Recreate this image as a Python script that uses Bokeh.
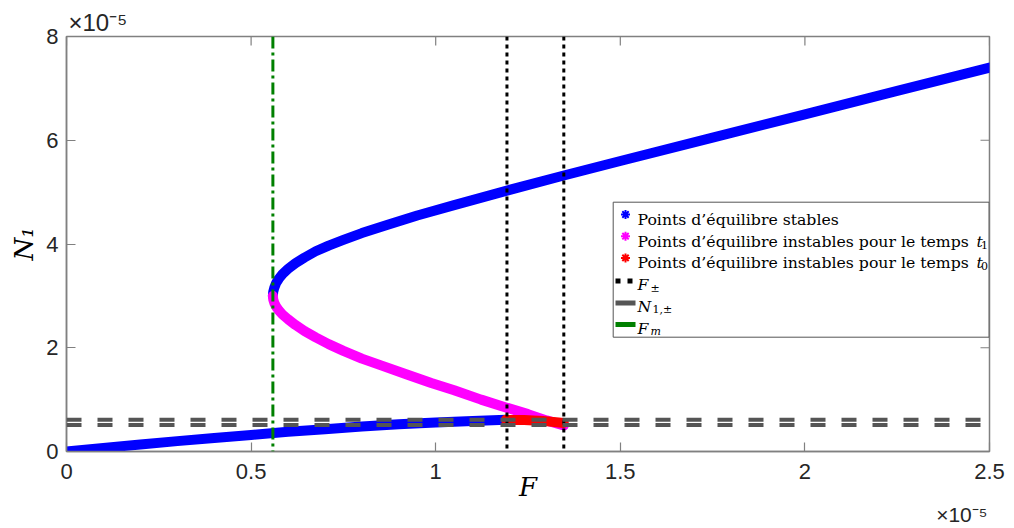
import numpy as np
from bokeh.plotting import figure
from bokeh.models import FixedTicker, Span, Label, Title
from bokeh.embed import file_html
from bokeh.resources import INLINE

# ---------------- data (F and N1 in units of 1e-5) ----------------
F_stable_upper = [0.559, 0.560, 0.563, 0.568, 0.575, 0.585, 0.600, 0.620, 0.645, 0.675, 0.710,
                  0.750, 0.800, 0.870, 0.950, 1.050, 1.193, 1.347, 1.500, 1.750, 2.000, 2.250, 2.500]
N_stable_upper = [3.00, 3.08, 3.16, 3.25, 3.33, 3.42, 3.52, 3.63, 3.74, 3.86, 3.97,
                  4.08, 4.21, 4.37, 4.55, 4.75, 5.03, 5.32, 5.60, 6.05, 6.50, 6.95, 7.40]

F_stable_lower = [0.0, 0.1, 0.2, 0.3, 0.4, 0.5, 0.6, 0.7, 0.8, 0.9, 1.0, 1.1, 1.19]
N_stable_lower = [0.0, 0.07, 0.135, 0.20, 0.26, 0.32, 0.38, 0.43, 0.48, 0.525, 0.56, 0.59, 0.61]

F_unstable_t1 = [0.559, 0.560, 0.563, 0.568, 0.575, 0.585, 0.600, 0.620, 0.645, 0.675, 0.710,
                 0.750, 0.800, 0.852, 0.920, 0.988, 1.050, 1.123, 1.190, 1.250, 1.300, 1.347]
N_unstable_t1 = [3.00, 2.93, 2.86, 2.79, 2.72, 2.64, 2.55, 2.44, 2.32, 2.20, 2.07,
                 1.94, 1.79, 1.66, 1.49, 1.32, 1.18, 1.00, 0.85, 0.72, 0.60, 0.50]

F_unstable_t0 = [1.19, 1.24, 1.29, 1.347]
N_unstable_t0 = [0.61, 0.605, 0.59, 0.55]

F_pm = [1.193, 1.347]      # F_{+-}
N1_pm = [0.51, 0.61]       # N_{1,+-}
F_m = [0.559]              # F_m

x_ticks = [0.0, 0.5, 1.0, 1.5, 2.0, 2.5]
x_tick_labels = ["0", "0.5", "1", "1.5", "2", "2.5"]
y_ticks = [0.0, 2.0, 4.0, 6.0, 8.0]
y_tick_labels = ["0", "2", "4", "6", "8"]
exponent_label = "\u00d710\u207b\u2075"

legend_labels = ["Points d\u2019\u00e9quilibre stables",
                 "Points d\u2019\u00e9quilibre instables pour le temps ",
                 "Points d\u2019\u00e9quilibre instables pour le temps "]

# ---------------- layout ----------------
W, H = 1014, 528
BL, BR, BT, BB = 66, 25, 36, 77
FW, FH = W - BL - BR, H - BT - BB
X0, X1, Y0, Y1 = 0.0, 2.5, 0.0, 8.0


def dx(px):
    return X0 + (px - BL) / FW * (X1 - X0)


def dy(py):
    return Y1 - (py - BT) / FH * (Y1 - Y0)


AX_COL = "#808080"
TXT_COL = "#262626"
SERIF = "DejaVu Serif"
SANS = "Liberation Sans"

p = figure(width=W, height=H, x_range=(X0, X1), y_range=(Y0, Y1),
           output_backend="svg", toolbar_location=None,
           min_border_left=BL, min_border_right=BR, min_border_top=BT, min_border_bottom=BB)
p.grid.visible = False
p.outline_line_color = AX_COL
p.outline_line_width = 1.5
p.background_fill_color = "white"
p.border_fill_color = "white"

# exponent at top-left (title) and bottom-right
p.title.text = exponent_label
p.title.align = "left"
p.title.offset = 2
p.title.standoff = 1
p.title.text_font = SANS
p.title.text_font_size = "24px"
p.title.text_font_style = "normal"
p.title.text_color = TXT_COL

for ax in (p.xaxis[0], p.yaxis[0]):
    ax.axis_line_color = AX_COL
    ax.axis_line_width = 1.5
    ax.major_tick_line_color = AX_COL
    ax.major_tick_line_width = 1.2
    ax.major_tick_in = 9
    ax.major_tick_out = 0
    ax.minor_tick_line_color = None
    ax.major_label_text_font = SANS
    ax.major_label_text_font_size = "22px"
    ax.major_label_text_color = TXT_COL
    ax.axis_label_text_font = SERIF
    ax.axis_label_text_font_style = "italic"
    ax.axis_label_text_font_size = "26px"
    ax.axis_label_text_color = "black"

p.xaxis.ticker = FixedTicker(ticks=x_ticks)
p.yaxis.ticker = FixedTicker(ticks=y_ticks)
p.xaxis.major_label_overrides = {t: l for t, l in zip(x_ticks, x_tick_labels)}
p.yaxis.major_label_overrides = {t: l for t, l in zip(y_ticks, y_tick_labels)}
p.xaxis.major_label_standoff = 12
p.yaxis.major_label_standoff = 8
p.xaxis.axis_label = "F"
p.xaxis.axis_label_standoff = -10
p.yaxis.axis_label = "N\u2081"
p.yaxis.axis_label_standoff = 4

bottom_exp = Title(text=exponent_label, align="right", offset=2, standoff=-8,
                   text_font=SANS, text_font_size="21px", text_font_style="normal",
                   text_color=TXT_COL)
p.add_layout(bottom_exp, "below")

# mirrored inward ticks on top and right edges (box on)
tick_dy = 9 / FH * (Y1 - Y0)
tick_dx = 9 / FW * (X1 - X0)
p.segment(x0=x_ticks, y0=[Y1] * len(x_ticks), x1=x_ticks, y1=[Y1 - tick_dy] * len(x_ticks),
          line_color=AX_COL, line_width=1.2)
p.segment(x0=[X1] * len(y_ticks), y0=y_ticks, x1=[X1 - tick_dx] * len(y_ticks), y1=y_ticks,
          line_color=AX_COL, line_width=1.2)

# ---------------- curves ----------------
LW = 10
p.line(F_stable_upper, N_stable_upper, line_color="#0000FF", line_width=LW, line_cap="round", line_join="round")
p.line(F_stable_lower, N_stable_lower, line_color="#0000FF", line_width=LW, line_cap="round", line_join="round")
p.line(F_unstable_t1, N_unstable_t1, line_color="#FF00FF", line_width=LW, line_cap="round", line_join="round")
p.line(F_unstable_t0, N_unstable_t0, line_color="#FF0000", line_width=LW, line_cap="round", line_join="round")

# ---------------- reference lines ----------------
for v in F_pm:
    p.add_layout(Span(location=v, dimension="height", line_color="black", line_width=3, line_dash="4 4"))
for v in N1_pm:
    p.add_layout(Span(location=v, dimension="width", line_color="#555555", line_width=4, line_dash="15 16"))
for v in F_m:
    p.add_layout(Span(location=v, dimension="height", line_color="#008000", line_width=3, line_dash="12 4 3 4"))

# ---------------- legend (drawn by hand) ----------------
p.quad(left=[dx(612.7)], right=[dx(988.5)], top=[dy(201.7)], bottom=[dy(336.7)],
       fill_color="white", line_color="#555555", line_width=1)

rows = [219.0, 240.7, 262.4, 284.1, 305.8, 327.5]
mk_cols = ["#0000FF", "#FF00FF", "#FF0000"]
for i, c in enumerate(mk_cols):
    p.scatter([dx(625)], [dy(rows[i] - 5)], marker="asterisk", size=9, line_color=c, line_width=2)
p.segment(x0=[dx(615)], y0=[dy(280.5)], x1=[dx(632)], y1=[dy(280.5)], line_color="black",
          line_width=5, line_dash="5 7")
p.segment(x0=[dx(615)], y0=[dy(302.5)], x1=[dx(635)], y1=[dy(302.5)], line_color="#555555", line_width=5)
p.segment(x0=[dx(615)], y0=[dy(324)], x1=[dx(635)], y1=[dy(324)], line_color="#008000", line_width=5)


def txt(text, px, py, size, font=SERIF, style="normal", align="left", baseline="alphabetic",
        color="black", angle=0.0):
    p.add_layout(Label(x=dx(px), y=dy(py), text=text, text_font=font, text_font_size=f"{size}px",
                       text_font_style=style, text_align=align, text_baseline=baseline,
                       text_color=color, angle=angle))


LS = 15.7
txt(legend_labels[0], 637, rows[0], LS)
txt(legend_labels[1], 637, rows[1], LS)
txt("t", 976, rows[1], LS, style="italic")
txt("1", 980.5, rows[1] + 3.5, 11)
txt(legend_labels[2], 637, rows[2], LS)
txt("t", 976, rows[2], LS, style="italic")
txt("0", 980.5, rows[2] + 3.5, 11)
txt("F", 637, rows[3], LS, style="italic")
txt("\u00b1", 650, rows[3] + 3.5, 11)
txt("N", 637, rows[4], LS, style="italic")
txt("1,\u00b1", 652, rows[4] + 3.5, 11)
txt("F", 637, rows[5], LS, style="italic")
txt("m", 650, rows[5] + 3.5, 11, style="italic")

open("out.html", "w").write(file_html(p, INLINE))
